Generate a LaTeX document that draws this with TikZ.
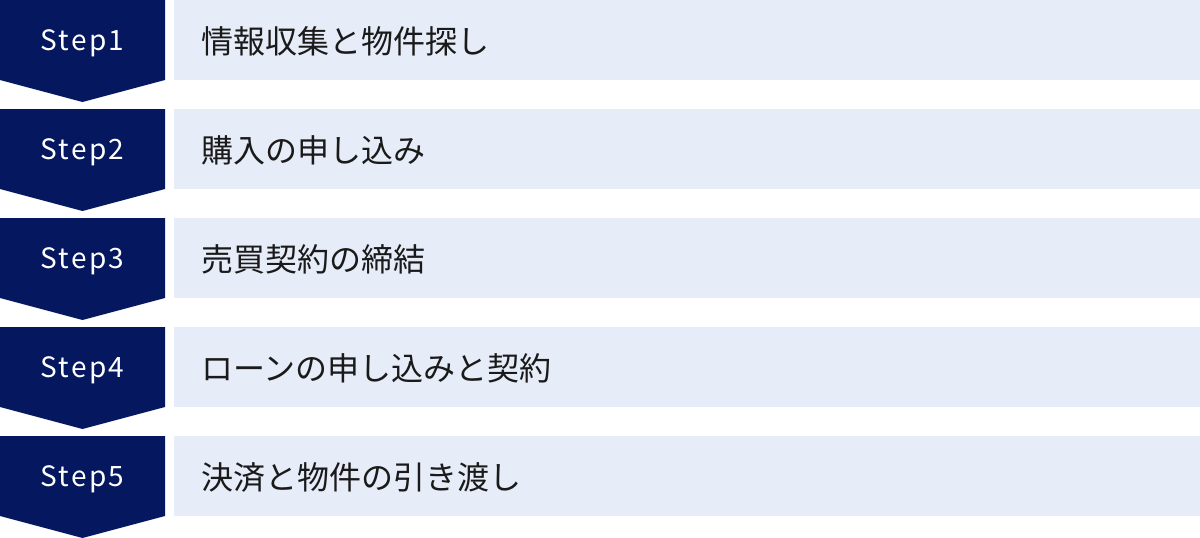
\documentclass[tikz,border=0pt]{standalone}
\usepackage{fontspec}
\setmainfont{Noto Sans CJK JP}
\newfontfamily\stepfont[LetterSpace=8]{Noto Sans CJK JP}
\definecolor{stepnavy}{HTML}{04175F}
\definecolor{rowblue}{HTML}{E6ECF8}
\definecolor{rowtext}{HTML}{1A1A1A}

\begin{document}
\begin{tikzpicture}[x=1pt,y=-1pt,
    steplabel/.style={text=white,inner sep=0pt,font=\stepfont\fontsize{28}{32}\selectfont},
    rowbox/.style={fill=rowblue,anchor=north west,minimum width=1026pt,minimum height=80pt,inner sep=0pt},
    rowlabel/.style={text=rowtext,anchor=west,inner sep=0pt,font=\fontsize{32}{38}\selectfont}]
  \useasboundingbox (0,0) rectangle (1200,538);
  \foreach \i/\t in {1/情報収集と物件探し,2/購入の申し込み,3/売買契約の締結,4/ローンの申し込みと契約,5/決済と物件の引き渡し} {
    \pgfmathsetmacro{\y}{(\i-1)*109}
    \fill[stepnavy] (0,\y) -- (165,\y) -- (165,\y+80) -- (82.5,\y+102) -- (0,\y+80) -- cycle;
    \node[steplabel] (step\i) at (82.5,\y+43) {Step\i};
    \node[rowbox] (box\i) at (174,\y) {};
    \node[rowlabel] (label\i) at (201,\y+41) {\t};}
\end{tikzpicture}
\end{document}
